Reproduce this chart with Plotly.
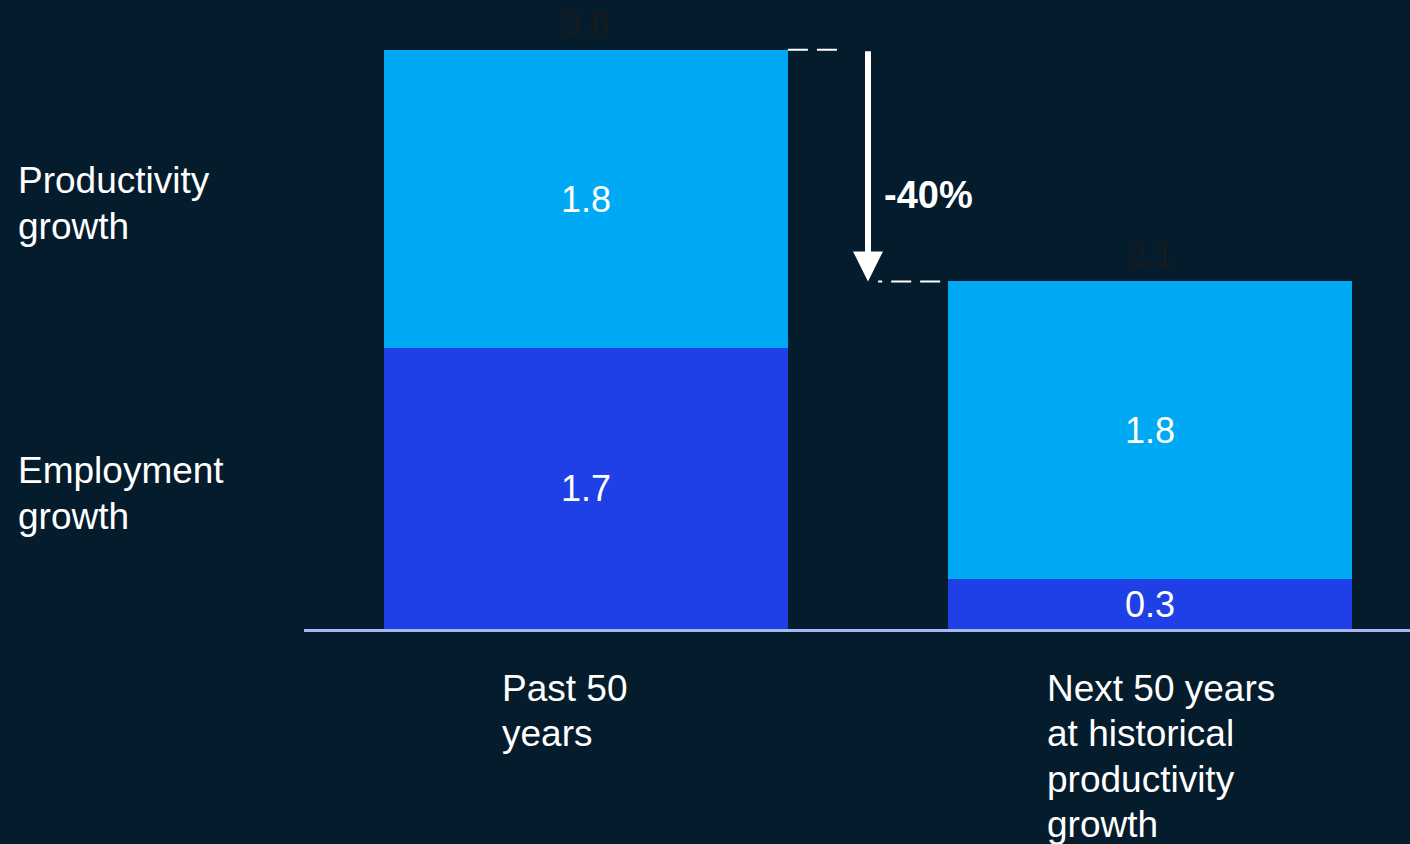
import plotly.graph_objects as go

categories = ["Past 50 years", "Next 50 years at historical productivity growth"]
category_labels = ["Past 50<br>years", "Next 50 years<br>at historical<br>productivity<br>growth"]
employment = [1.7, 0.3]
productivity = [1.8, 1.8]
totals = ["3.6", "2.1"]
series_names = ["Employment growth", "Productivity growth"]
series_labels = ["Employment<br>growth", "Productivity<br>growth"]
change_label = "-40%"
footnote = "Note: Numbers may not sum due to rounding"

BG = "#051c2c"
DARK = "#1f40e6"
LIGHT = "#00a9f4"
FONT = "Arial, Liberation Sans, sans-serif"
LINE_H = 45.5

fig = go.Figure()
for name, vals, col in [(series_names[0], employment, DARK), (series_names[1], productivity, LIGHT)]:
    fig.add_trace(go.Bar(
        x=categories, y=vals, name=name, marker=dict(color=col, line=dict(width=0)),
        text=[f"{v:.1f}" for v in vals], textposition="inside", insidetextanchor="middle",
        textangle=0, constraintext="none",
        textfont=dict(color="white", size=36, family=FONT), width=0.716,
    ))

stack = [e + p for e, p in zip(employment, productivity)]
ann = []
# totals
for i, (s, t) in enumerate(zip(stack, totals)):
    ann.append(dict(x=i, y=s, text=t, showarrow=False, yanchor="bottom", yshift=6,
                    font=dict(size=33, color="#1a1a1a", family=FONT)))
# category labels (one annotation per line for tighter line spacing)
offsets = [-0.152, -0.186]
for i, (lab, off) in enumerate(zip(category_labels, offsets)):
    for k, line in enumerate(lab.split("<br>")):
        ann.append(dict(x=i + off, y=0, yref="y", text=line, showarrow=False, xanchor="left",
                        yanchor="middle", align="left", yshift=-59 - k * LINE_H,
                        font=dict(size=37, color="white", family=FONT)))
# series labels on the left, at first bar's segment centers
centers = [employment[0] / 2, employment[0] + productivity[0] / 2]
for lab, c in zip(series_labels, centers):
    lines = lab.split("<br>")
    n = len(lines)
    for k, line in enumerate(lines):
        ann.append(dict(x=(16 - 304) / 1106, xref="paper", y=c, text=line, showarrow=False,
                        xanchor="left", yanchor="middle", align="left",
                        yshift=(n - 1) / 2 * LINE_H - k * LINE_H - 5,
                        font=dict(size=37, color="white", family=FONT)))
# arrow
ann.append(dict(x=0.5, y=stack[1], ax=0.5, ay=stack[0], xref="x", yref="y", axref="x", ayref="y",
                showarrow=True, arrowhead=2, arrowsize=1, arrowwidth=6, arrowcolor="white",
                text=""))
ann.append(dict(x=0.5, y=(stack[0] + stack[1]) / 2, text=f"<b>{change_label}</b>", showarrow=False,
                xanchor="left", xshift=14, yshift=-29,
                font=dict(size=38, color="white", family=FONT)))
ann.append(dict(x=(60 - 304) / 1106, xref="paper", y=0, yref="paper", yshift=-211, text=footnote,
                showarrow=False, xanchor="left", yanchor="top",
                font=dict(size=17, color="#9aa4ad", family=FONT)))

shapes = [
    dict(type="line", x0=0.358, x1=0.459, y0=stack[0], y1=stack[0], xref="x", yref="y",
         line=dict(color="white", width=2, dash="20px,9px")),
    dict(type="line", x0=0.628, x1=0.518, y0=stack[1], y1=stack[1], xref="x", yref="y",
         line=dict(color="white", width=2, dash="20px,9px")),
]

fig.update_layout(
    barmode="stack", width=1410, height=844, paper_bgcolor=BG, plot_bgcolor=BG,
    margin=dict(l=304, r=0, t=0, b=215), showlegend=False, bargap=0,
    annotations=ann, shapes=shapes,
    xaxis=dict(range=[-0.5, 1.461], showticklabels=False, showgrid=False, zeroline=False,
               showline=True, linecolor="#a9b6f5", linewidth=3, ticks=""),
    yaxis=dict(range=[0, 3.8], visible=False, showgrid=False, zeroline=False),
    font=dict(family=FONT),
)
fig.write_html("out.html")
